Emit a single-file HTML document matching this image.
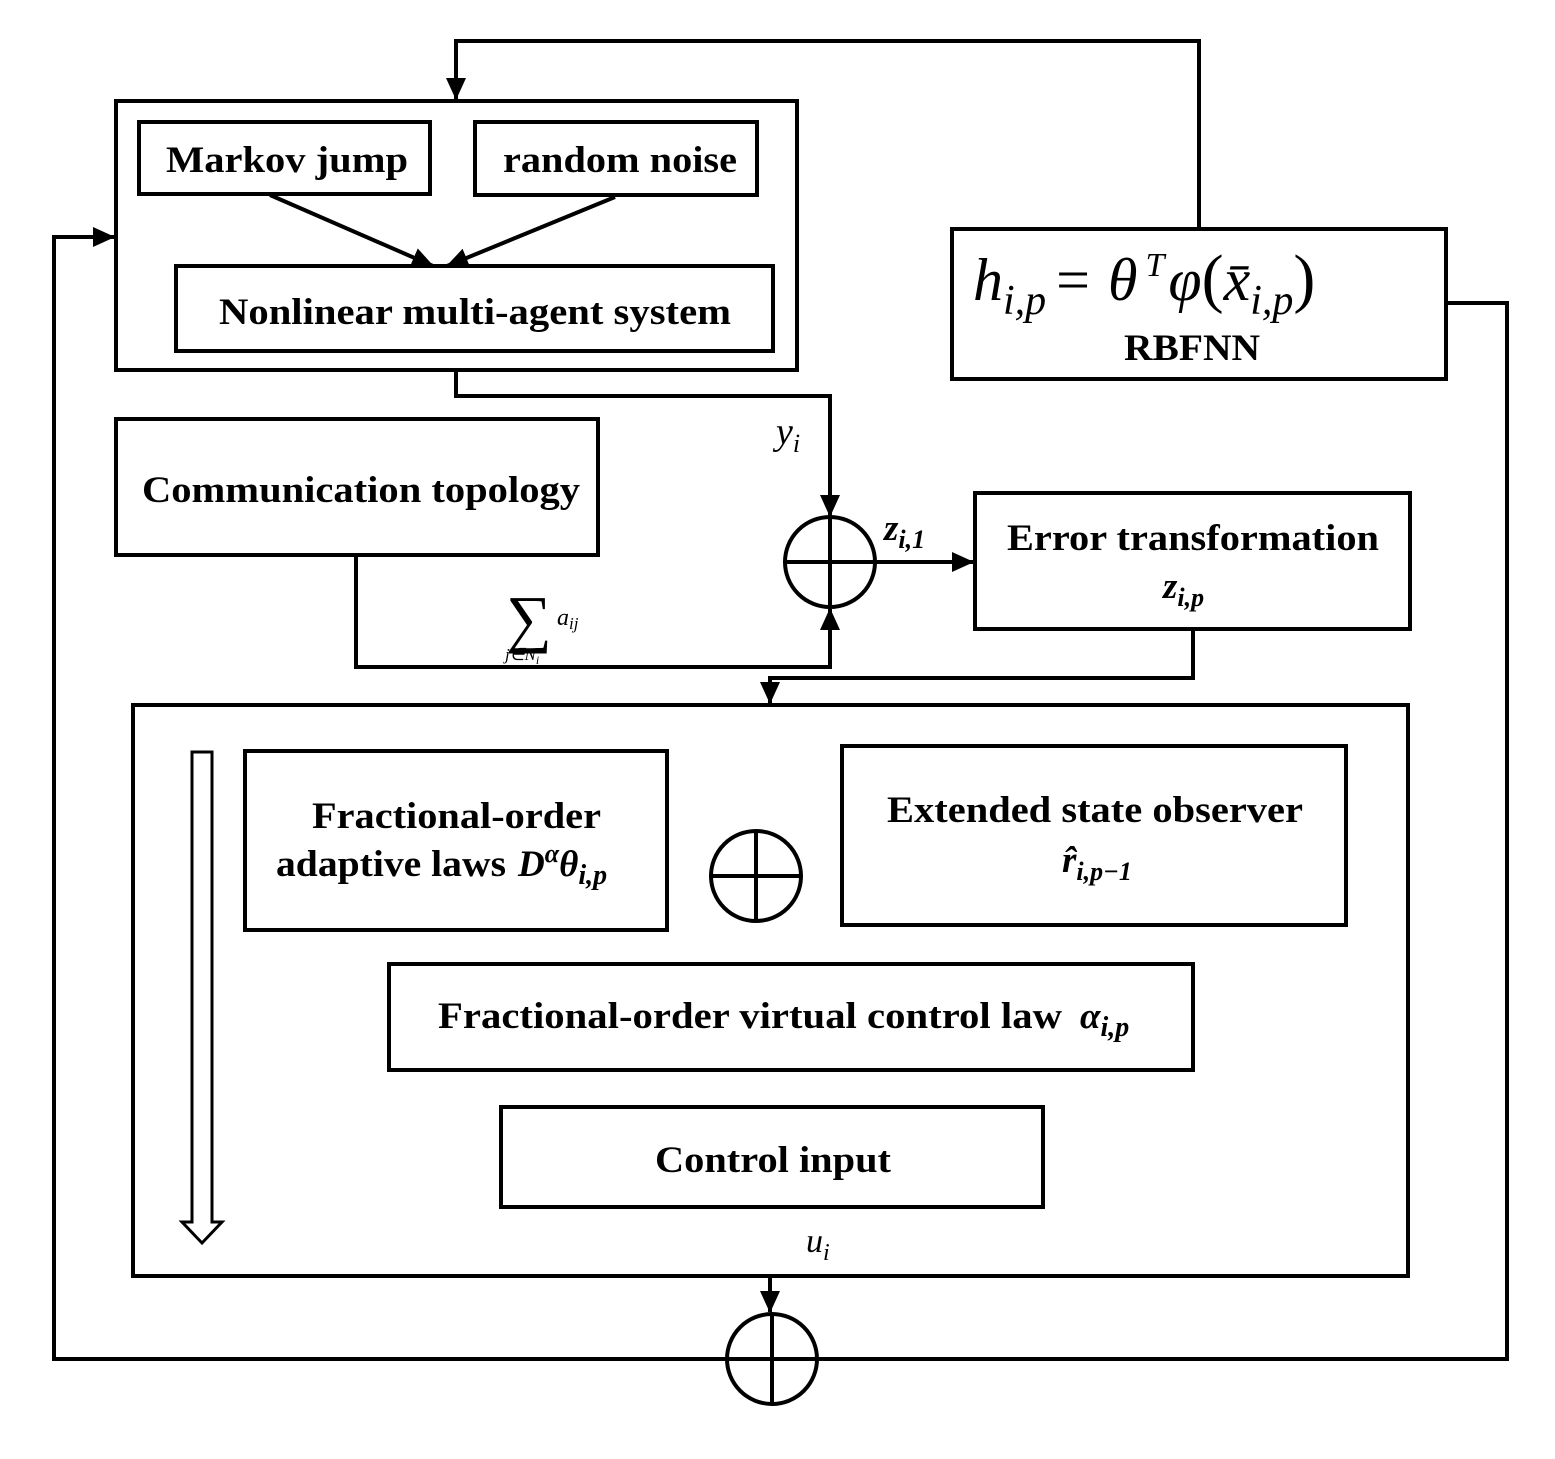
<!DOCTYPE html>
<html><head><style>body{margin:0;background:#fff}svg{display:block}
text{font-family:"Liberation Serif",serif;fill:#000}
.b{font-weight:bold;font-size:37px}
.m{font-style:italic}
</style></head><body>
<svg width="1555" height="1459" viewBox="0 0 1555 1459" xmlns="http://www.w3.org/2000/svg">
<defs>
<marker id="A" markerWidth="22" markerHeight="20" refX="21" refY="10" orient="auto" markerUnits="userSpaceOnUse"><path d="M0,0L22,10L0,20z"/></marker></defs>
<g fill="none" stroke="#000" stroke-width="4">
<rect x="116" y="101" width="681" height="269"/>
<rect x="139" y="122" width="291" height="72"/>
<rect x="475" y="122" width="282" height="73"/>
<rect x="176" y="266" width="597" height="85"/>
<line x1="270" y1="195" x2="433" y2="266" marker-end="url(#A)"/>
<line x1="615" y1="197" x2="447" y2="266" marker-end="url(#A)"/>
<rect x="952" y="229" width="494" height="150"/>
<path d="M1199,229V41H456V99" marker-end="url(#A)"/>
<path d="M1446,303H1507V1359H817"/>
<path d="M727,1359H54V237H114" marker-end="url(#A)"/>
<circle cx="772" cy="1359" r="45"/><path d="M727,1359H817M772,1314V1404"/>
<path d="M456,370V396H830V516" marker-end="url(#A)"/>
<circle cx="830" cy="562" r="45"/><path d="M785,562H875M830,517V607"/>
<rect x="116" y="419" width="482" height="136"/>
<path d="M356,555V667H830V609" marker-end="url(#A)"/>
<line x1="875" y1="562" x2="973" y2="562" marker-end="url(#A)"/>
<rect x="975" y="493" width="435" height="136"/>
<path d="M1193,629V678H770V703" marker-end="url(#A)"/>
<rect x="133" y="705" width="1275" height="571"/>
<path d="M192,752H212V1222H222L202,1243L182,1222H192Z" stroke-width="3"/>
<rect x="245" y="751" width="422" height="179"/>
<circle cx="756" cy="876" r="45"/><path d="M711,876H801M756,831V921"/>
<rect x="842" y="746" width="504" height="179"/>
<rect x="389" y="964" width="804" height="106"/>
<rect x="501" y="1107" width="542" height="100"/>
<path d="M770,1276V1312" marker-end="url(#A)"/>
</g>
<text class="b" x="166" y="172" textLength="242" lengthAdjust="spacingAndGlyphs">Markov jump</text>
<text class="b" x="503" y="172" textLength="234" lengthAdjust="spacingAndGlyphs">random noise</text>
<text class="b" x="219" y="324" textLength="512" lengthAdjust="spacingAndGlyphs">Nonlinear multi-agent system</text>
<text x="973" y="300" font-size="60"><tspan class="m">h</tspan><tspan class="m" font-size="42" dy="14">i,p</tspan><tspan dy="-14" dx="10">=</tspan><tspan class="m" dx="18">θ</tspan><tspan font-size="34" class="m" dy="-24" dx="8">T</tspan><tspan class="m" dy="24" dx="4">φ</tspan><tspan font-size="66">(</tspan><tspan class="m">x̄</tspan><tspan class="m" font-size="42" dy="14">i,p</tspan><tspan dy="-14" font-size="66">)</tspan></text>
<text class="b" x="1124" y="360" textLength="136" lengthAdjust="spacingAndGlyphs">RBFNN</text>
<text class="m" x="776" y="444" font-size="38">y<tspan font-size="26" dy="8">i</tspan></text>
<text class="b" x="142" y="502" textLength="438" lengthAdjust="spacingAndGlyphs">Communication topology</text>
<text x="506" y="640" font-size="64">∑</text>
<text class="m" x="557" y="625" font-size="24">a<tspan font-size="17" dy="4">ij</tspan></text>
<text class="m" x="505" y="660" font-size="17">j∈N<tspan font-size="12" dy="4">i</tspan></text>
<text class="b m" x="884" y="540" font-size="36">z<tspan font-size="26" dy="8">i,1</tspan></text>
<text class="b" x="1007" y="550" textLength="372" lengthAdjust="spacingAndGlyphs">Error transformation</text>
<text class="b m" x="1163" y="598" font-size="36">z<tspan font-size="26" dy="8">i,p</tspan></text>
<text class="b" x="312" y="828" textLength="289" lengthAdjust="spacingAndGlyphs">Fractional-order</text>
<text class="b" x="276" y="876"><tspan textLength="230" lengthAdjust="spacingAndGlyphs">adaptive laws</tspan><tspan class="m" dx="12">D</tspan><tspan class="m" font-size="26" dy="-14">α</tspan><tspan class="m" dy="14">θ</tspan><tspan class="m" font-size="28" dy="8">i,p</tspan></text>
<text class="b" x="887" y="822" textLength="416" lengthAdjust="spacingAndGlyphs">Extended state observer</text>
<text class="b m" x="1062" y="872" font-size="36">r̂<tspan font-size="26" dy="8">i,p−1</tspan></text>
<text class="b" x="438" y="1028"><tspan textLength="624" lengthAdjust="spacingAndGlyphs">Fractional-order virtual control law</tspan><tspan class="m" dx="18">α</tspan><tspan class="m" font-size="28" dy="8">i,p</tspan></text>
<text class="b" x="655" y="1172" textLength="236" lengthAdjust="spacingAndGlyphs">Control input</text>
<text class="m" x="806" y="1252" font-size="34">u<tspan font-size="24" dy="8">i</tspan></text>
</svg></body></html>
